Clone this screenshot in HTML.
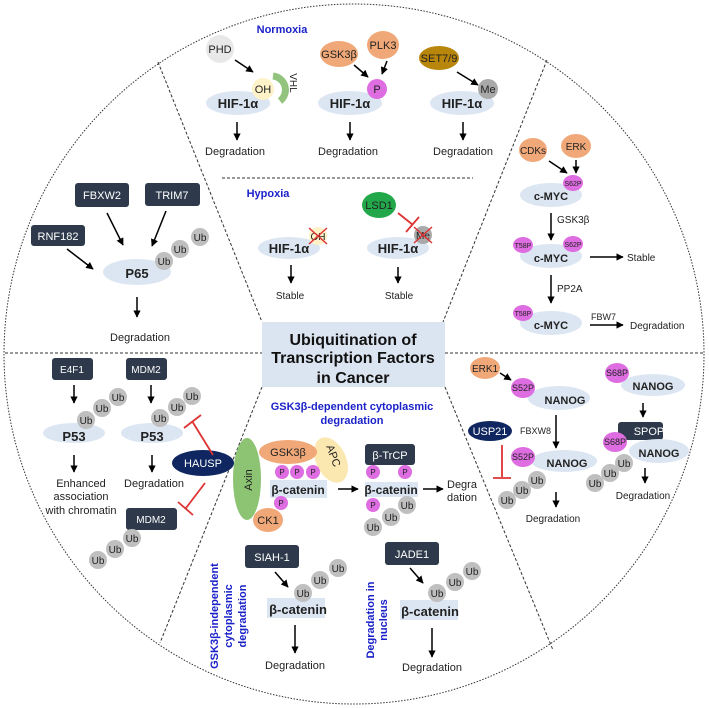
<!DOCTYPE html>
<html><head><meta charset="utf-8"><style>
html,body{margin:0;padding:0;background:#fff}
svg{display:block}
text{font-family:"Liberation Sans",Arial,sans-serif}
.b{font-weight:bold}
.w{fill:#fff}
.bl{fill:#1b22c8;font-weight:bold}
</style></head><body>
<svg width="709" height="708" viewBox="0 0 709 708" xmlns="http://www.w3.org/2000/svg">
<defs>
<marker id="a" viewBox="0 0 10 10" refX="9" refY="5" markerWidth="5" markerHeight="5" orient="auto"><path d="M0,0L10,5L0,10z" fill="#000"/></marker>
</defs>
<g fill="none" stroke="#333" stroke-width="1">
<circle cx="354" cy="354" r="350" stroke-dasharray="1.5,1.5"/>
<g stroke-dasharray="3,2">
<line x1="5" y1="353" x2="262" y2="353"/><line x1="445" y1="353" x2="704" y2="353"/>
<line x1="158" y1="62" x2="262" y2="322"/><line x1="547" y1="60" x2="443" y2="322"/>
<line x1="262" y1="387" x2="160" y2="643"/><line x1="445" y1="387" x2="553" y2="650"/>
<line x1="222" y1="178" x2="473" y2="178"/>
</g></g>
<!-- title -->
<rect x="262" y="322" width="183" height="65" fill="#dbe4f1"/>
<g class="b" font-size="16" text-anchor="middle" fill="#111">
<text x="353" y="345">Ubiquitination of</text><text x="353" y="363">Transcription Factors</text><text x="353" y="383">in Cancer</text></g>

<g font-size="11" fill="#222" text-anchor="middle">
<!-- Normoxia -->
<text x="282" y="33" class="bl" font-size="11">Normoxia</text>
<circle cx="220" cy="49" r="14" fill="#e8e8e8"/><text x="220" y="53">PHD</text>
<line x1="235" y1="60" x2="253" y2="72" stroke="#000" stroke-width="1.5" marker-end="url(#a)"/>
<ellipse cx="238" cy="103" rx="32" ry="12" fill="#dce6f2"/>
<path d="M273,76 A14,14 0 0 1 280,101" stroke="#93c47d" stroke-width="7" fill="none"/>
<text x="290" y="83" font-size="10" transform="rotate(90 290 83)">VHL</text>
<circle cx="263" cy="89" r="11" fill="#fdf2c8"/><text x="263" y="93">OH</text>
<text x="238" y="108" class="b" font-size="13">HIF-1α</text>
<line x1="237" y1="122" x2="237" y2="140" stroke="#000" stroke-width="1.5" marker-end="url(#a)"/>
<text x="235" y="155">Degradation</text>

<ellipse cx="339" cy="54" rx="19" ry="13" fill="#f0a878"/><text x="339" y="58">GSK3β</text>
<ellipse cx="383" cy="45" rx="16" ry="14" fill="#f0a878"/><text x="383" y="49">PLK3</text>
<line x1="354" y1="65" x2="368" y2="77" stroke="#000" stroke-width="1.5" marker-end="url(#a)"/>
<line x1="387" y1="61" x2="382" y2="74" stroke="#000" stroke-width="1.5" marker-end="url(#a)"/>
<ellipse cx="350" cy="103" rx="32" ry="12" fill="#dce6f2"/>
<circle cx="377" cy="89" r="10" fill="#dd6de0"/><text x="377" y="93">P</text>
<text x="350" y="108" class="b" font-size="13">HIF-1α</text>
<line x1="350" y1="122" x2="350" y2="140" stroke="#000" stroke-width="1.5" marker-end="url(#a)"/>
<text x="348" y="155">Degradation</text>

<ellipse cx="439" cy="58" rx="20" ry="12" fill="#b8860b"/><text x="439" y="62">SET7/9</text>
<line x1="457" y1="72" x2="478" y2="85" stroke="#000" stroke-width="1.5" marker-end="url(#a)"/>
<ellipse cx="462" cy="103" rx="32" ry="12" fill="#dce6f2"/>
<circle cx="488" cy="89" r="10" fill="#a9a9a9"/><text x="488" y="93">Me</text>
<text x="462" y="108" class="b" font-size="13">HIF-1α</text>
<line x1="463" y1="122" x2="463" y2="140" stroke="#000" stroke-width="1.5" marker-end="url(#a)"/>
<text x="463" y="155">Degradation</text>

<!-- Hypoxia -->
<text x="268" y="197" class="bl" font-size="11">Hypoxia</text>
<ellipse cx="289" cy="248" rx="31" ry="11" fill="#dce6f2"/>
<circle cx="318" cy="236" r="9" fill="#fdf2c8"/><text x="318" y="240" font-size="10">OH</text>
<path d="M309,228L327,244M327,228L309,244" stroke="#d33" stroke-width="1.5"/>
<text x="289" y="253" class="b" font-size="13">HIF-1α</text>
<line x1="291" y1="265" x2="291" y2="283" stroke="#000" stroke-width="1.5" marker-end="url(#a)"/>
<text x="290" y="299" font-size="10">Stable</text>

<ellipse cx="379" cy="205" rx="17" ry="13" fill="#22a84a"/><text x="379" y="209">LSD1</text>
<line x1="398" y1="213" x2="413" y2="225" stroke="#d33" stroke-width="1.8"/>
<line x1="406" y1="232" x2="419" y2="217" stroke="#d33" stroke-width="1.8"/>
<ellipse cx="398" cy="248" rx="31" ry="11" fill="#dce6f2"/>
<circle cx="423" cy="235" r="9" fill="#a9a9a9"/><text x="423" y="239" font-size="10">Me</text>
<path d="M414,227L432,243M432,227L414,243" stroke="#d33" stroke-width="1.5"/>
<text x="398" y="253" class="b" font-size="13">HIF-1α</text>
<line x1="398" y1="267" x2="398" y2="283" stroke="#000" stroke-width="1.5" marker-end="url(#a)"/>
<text x="399" y="299" font-size="10">Stable</text>

<!-- P65 -->
<rect x="75" y="183" width="54" height="24" rx="3" fill="#2e3a4b"/><text x="102" y="199" class="w">FBXW2</text>
<rect x="145" y="183" width="55" height="23" rx="3" fill="#2e3a4b"/><text x="172" y="199" class="w">TRIM7</text>
<rect x="31" y="225" width="54" height="21" rx="3" fill="#2e3a4b"/><text x="58" y="240" class="w">RNF182</text>
<line x1="107" y1="213" x2="123" y2="245" stroke="#000" stroke-width="1.5" marker-end="url(#a)"/>
<line x1="166" y1="211" x2="152" y2="246" stroke="#000" stroke-width="1.5" marker-end="url(#a)"/>
<line x1="67" y1="249" x2="93" y2="269" stroke="#000" stroke-width="1.5" marker-end="url(#a)"/>
<ellipse cx="137" cy="272" rx="34" ry="13" fill="#dce6f2"/>
<g font-size="10"><circle cx="200" cy="237" r="9" fill="#bfbfbf"/><text x="200" y="241">Ub</text>
<circle cx="180" cy="249" r="9" fill="#bfbfbf"/><text x="180" y="253">Ub</text>
<circle cx="164" cy="261" r="9" fill="#bfbfbf"/><text x="164" y="265">Ub</text></g>
<text x="137" y="278" class="b" font-size="13">P65</text>
<line x1="137" y1="297" x2="137" y2="317" stroke="#000" stroke-width="1.5" marker-end="url(#a)"/>
<text x="140" y="341">Degradation</text>

<!-- c-MYC -->
<ellipse cx="533" cy="150" rx="14" ry="12" fill="#f0a878"/><text x="533" y="154" font-size="10">CDKs</text>
<ellipse cx="576" cy="146" rx="15" ry="12" fill="#f0a878"/><text x="576" y="150" font-size="10">ERK</text>
<line x1="549" y1="161" x2="567" y2="173" stroke="#000" stroke-width="1.5" marker-end="url(#a)"/>
<line x1="576" y1="160" x2="576" y2="173" stroke="#000" stroke-width="1.5" marker-end="url(#a)"/>
<ellipse cx="551" cy="195" rx="31" ry="12" fill="#dce6f2"/>
<ellipse cx="573" cy="183" rx="10" ry="8" fill="#dd6de0"/><text x="573" y="186" font-size="7">S62P</text>
<text x="551" y="200" class="b" font-size="11">c-MYC</text>
<line x1="551" y1="213" x2="551" y2="240" stroke="#000" stroke-width="1.5" marker-end="url(#a)"/>
<text x="557" y="223" text-anchor="start" font-size="10">GSK3β</text>
<ellipse cx="551" cy="256" rx="31" ry="12" fill="#dce6f2"/>
<ellipse cx="523" cy="245" rx="10" ry="8" fill="#dd6de0"/><text x="523" y="248" font-size="7">T58P</text>
<ellipse cx="573" cy="244" rx="10" ry="8" fill="#dd6de0"/><text x="573" y="247" font-size="7">S62P</text>
<text x="551" y="262" class="b" font-size="11">c-MYC</text>
<line x1="590" y1="257" x2="623" y2="257" stroke="#000" stroke-width="1.5" marker-end="url(#a)"/>
<text x="627" y="261" text-anchor="start" font-size="10">Stable</text>
<line x1="551" y1="275" x2="551" y2="303" stroke="#000" stroke-width="1.5" marker-end="url(#a)"/>
<text x="557" y="292" text-anchor="start" font-size="10">PP2A</text>
<ellipse cx="551" cy="323" rx="31" ry="12" fill="#dce6f2"/>
<ellipse cx="523" cy="313" rx="10" ry="8" fill="#dd6de0"/><text x="523" y="316" font-size="7">T58P</text>
<text x="551" y="329" class="b" font-size="11">c-MYC</text>
<text x="591" y="320" text-anchor="start" font-size="9">FBW7</text>
<line x1="590" y1="325" x2="623" y2="325" stroke="#000" stroke-width="1.5" marker-end="url(#a)"/>
<text x="630" y="329" text-anchor="start" font-size="10">Degradation</text>

<!-- P53 -->
<rect x="52" y="358" width="41" height="22" rx="3" fill="#2e3a4b"/><text x="72" y="373" class="w" font-size="10">E4F1</text>
<rect x="126" y="358" width="41" height="22" rx="3" fill="#2e3a4b"/><text x="146" y="373" class="w" font-size="10">MDM2</text>
<line x1="74" y1="385" x2="74" y2="403" stroke="#000" stroke-width="1.5" marker-end="url(#a)"/>
<line x1="151" y1="385" x2="151" y2="403" stroke="#000" stroke-width="1.5" marker-end="url(#a)"/>
<ellipse cx="74" cy="433" rx="31" ry="10" fill="#dce6f2"/>
<ellipse cx="152" cy="433" rx="31" ry="10" fill="#dce6f2"/>
<g font-size="10">
<circle cx="118" cy="397" r="9" fill="#bfbfbf"/><text x="118" y="401">Ub</text>
<circle cx="102" cy="408" r="9" fill="#bfbfbf"/><text x="102" y="412">Ub</text>
<circle cx="86" cy="420" r="9" fill="#bfbfbf"/><text x="86" y="424">Ub</text>
<circle cx="192" cy="396" r="9" fill="#bfbfbf"/><text x="192" y="400">Ub</text>
<circle cx="177" cy="407" r="9" fill="#bfbfbf"/><text x="177" y="411">Ub</text>
<circle cx="160" cy="418" r="9" fill="#bfbfbf"/><text x="160" y="422">Ub</text></g>
<text x="74" y="441" class="b" font-size="13">P53</text>
<text x="152" y="441" class="b" font-size="13">P53</text>
<line x1="74" y1="455" x2="74" y2="472" stroke="#000" stroke-width="1.5" marker-end="url(#a)"/>
<line x1="152" y1="455" x2="152" y2="472" stroke="#000" stroke-width="1.5" marker-end="url(#a)"/>
<text x="81" y="487">Enhanced</text><text x="81" y="500">association</text><text x="81" y="514">with chromatin</text>
<text x="154" y="487">Degradation</text>
<ellipse cx="203" cy="463" rx="31" ry="13" fill="#0f2660"/><text x="203" y="467" class="w">HAUSP</text>
<g stroke="#d33" stroke-width="1.8"><line x1="213" y1="455" x2="192" y2="421"/><line x1="184" y1="428" x2="201" y2="415"/>
<line x1="205" y1="483" x2="186" y2="508"/><line x1="178" y1="502" x2="193" y2="515"/></g>
<rect x="126" y="508" width="51" height="22" rx="3" fill="#2e3a4b"/><text x="151" y="523" class="w" font-size="10">MDM2</text>
<g font-size="10"><circle cx="132" cy="538" r="9" fill="#bfbfbf"/><text x="132" y="542">Ub</text>
<circle cx="115" cy="549" r="9" fill="#bfbfbf"/><text x="115" y="553">Ub</text>
<circle cx="98" cy="560" r="9" fill="#bfbfbf"/><text x="98" y="564">Ub</text></g>

<!-- beta-catenin dependent -->
<text x="352" y="410" class="bl" font-size="11">GSK3β-dependent cytoplasmic</text>
<text x="352" y="424" class="bl" font-size="11">degradation</text>
<ellipse cx="247" cy="479" rx="14" ry="41" fill="#8cc474"/>
<text x="252" y="480" transform="rotate(-90 252 480)">Axin</text>
<ellipse cx="331" cy="460" rx="15" ry="24" fill="#fbe7b0" transform="rotate(-25 331 460)"/>
<ellipse cx="288" cy="452" rx="29" ry="12" fill="#f0a878"/><text x="288" y="456">GSK3β</text>
<text x="330" y="457" transform="rotate(70 330 457)">APC</text>
<rect x="270" y="480" width="57" height="18" fill="#dce6f2"/>
<g font-size="8"><circle cx="282" cy="472" r="7" fill="#dd6de0"/><text x="282" y="475">P</text>
<circle cx="297" cy="472" r="7" fill="#dd6de0"/><text x="297" y="475">P</text>
<circle cx="313" cy="472" r="7" fill="#dd6de0"/><text x="313" y="475">P</text></g>
<text x="298" y="494" class="b" font-size="12">β-catenin</text>
<ellipse cx="268" cy="520" rx="15" ry="12" fill="#f0a878"/><text x="268" y="524">CK1</text>
<circle cx="281" cy="503" r="7" fill="#dd6de0"/><text x="281" y="506" font-size="8">P</text>
<line x1="338" y1="489" x2="358" y2="489" stroke="#000" stroke-width="1.5" marker-end="url(#a)"/>
<rect x="365" y="444" width="50" height="21" rx="3" fill="#2e3a4b"/><text x="390" y="459" class="w">β-TrCP</text>
<rect x="365" y="482" width="53" height="15" fill="#dce6f2"/>
<g font-size="8"><circle cx="373" cy="472" r="7" fill="#dd6de0"/><text x="373" y="475">P</text>
<circle cx="405" cy="472" r="7" fill="#dd6de0"/><text x="405" y="475">P</text>
<circle cx="373" cy="505" r="7" fill="#dd6de0"/><text x="373" y="508">P</text></g>
<text x="391" y="494" class="b" font-size="12">β-catenin</text>
<g font-size="10"><circle cx="407" cy="505" r="9" fill="#bfbfbf"/><text x="407" y="509">Ub</text>
<circle cx="391" cy="517" r="9" fill="#bfbfbf"/><text x="391" y="521">Ub</text>
<circle cx="373" cy="527" r="9" fill="#bfbfbf"/><text x="373" y="531">Ub</text></g>
<line x1="423" y1="489" x2="443" y2="489" stroke="#000" stroke-width="1.5" marker-end="url(#a)"/>
<text x="447" y="488" text-anchor="start">Degra</text><text x="447" y="501" text-anchor="start">dation</text>

<!-- SIAH-1 -->
<text x="218" y="616" class="bl" font-size="11" transform="rotate(-90 218 616)">GSK3β-independent</text>
<text x="232" y="616" class="bl" font-size="11" transform="rotate(-90 232 616)">cytoplasmic</text>
<text x="246" y="616" class="bl" font-size="11" transform="rotate(-90 246 616)">degradation</text>
<rect x="245" y="545" width="54" height="23" rx="3" fill="#2e3a4b"/><text x="272" y="561" class="w">SIAH-1</text>
<line x1="275" y1="572" x2="288" y2="587" stroke="#000" stroke-width="1.5" marker-end="url(#a)"/>
<rect x="267" y="598" width="58" height="20" fill="#dce6f2"/>
<g font-size="10"><circle cx="338" cy="568" r="9" fill="#bfbfbf"/><text x="338" y="572">Ub</text>
<circle cx="320" cy="580" r="9" fill="#bfbfbf"/><text x="320" y="584">Ub</text>
<circle cx="303" cy="593" r="9" fill="#bfbfbf"/><text x="303" y="597">Ub</text></g>
<text x="298" y="614" class="b" font-size="13">β-catenin</text>
<line x1="295" y1="625" x2="295" y2="653" stroke="#000" stroke-width="1.5" marker-end="url(#a)"/>
<text x="295" y="669">Degradation</text>

<!-- JADE1 -->
<text x="374" y="620" class="bl" font-size="11" transform="rotate(-90 374 620)">Degradation in</text>
<text x="387" y="620" class="bl" font-size="11" transform="rotate(-90 387 620)">nucleus</text>
<rect x="385" y="542" width="54" height="23" rx="3" fill="#2e3a4b"/><text x="412" y="558" class="w">JADE1</text>
<line x1="410" y1="568" x2="423" y2="583" stroke="#000" stroke-width="1.5" marker-end="url(#a)"/>
<rect x="400" y="600" width="58" height="20" fill="#dce6f2"/>
<g font-size="10"><circle cx="472" cy="571" r="9" fill="#bfbfbf"/><text x="472" y="575">Ub</text>
<circle cx="455" cy="582" r="9" fill="#bfbfbf"/><text x="455" y="586">Ub</text>
<circle cx="437" cy="593" r="9" fill="#bfbfbf"/><text x="437" y="597">Ub</text></g>
<text x="430" y="616" class="b" font-size="13">β-catenin</text>
<line x1="432" y1="628" x2="432" y2="657" stroke="#000" stroke-width="1.5" marker-end="url(#a)"/>
<text x="432" y="671">Degradation</text>

<!-- NANOG -->
<ellipse cx="485" cy="368" rx="15" ry="11" fill="#f0a878"/><text x="485" y="372" font-size="10">ERK1</text>
<line x1="500" y1="373" x2="511" y2="380" stroke="#000" stroke-width="1.5" marker-end="url(#a)"/>
<ellipse cx="559" cy="398" rx="31" ry="12" fill="#dce6f2"/>
<ellipse cx="523" cy="388" rx="12" ry="10" fill="#dd6de0"/><text x="523" y="391" font-size="9">S52P</text>
<text x="565" y="404" class="b" font-size="11">NANOG</text>
<line x1="556" y1="415" x2="556" y2="448" stroke="#000" stroke-width="1.5" marker-end="url(#a)"/>
<text x="520" y="434" text-anchor="start" font-size="9">FBXW8</text>
<ellipse cx="490" cy="431" rx="22" ry="10" fill="#0f2660"/><text x="490" y="435" class="w">USP21</text>
<g stroke="#d33" stroke-width="1.8"><line x1="502" y1="445" x2="502" y2="477"/><line x1="493" y1="478" x2="511" y2="478"/></g>
<ellipse cx="564" cy="461" rx="33" ry="11" fill="#dce6f2"/>
<ellipse cx="523" cy="457" rx="12" ry="10" fill="#dd6de0"/><text x="523" y="460" font-size="9">S52P</text>
<text x="567" y="467" class="b" font-size="11">NANOG</text>
<g font-size="10"><circle cx="537" cy="480" r="9" fill="#bfbfbf"/><text x="537" y="484">Ub</text>
<circle cx="522" cy="490" r="9" fill="#bfbfbf"/><text x="522" y="494">Ub</text>
<circle cx="507" cy="500" r="9" fill="#bfbfbf"/><text x="507" y="504">Ub</text></g>
<line x1="556" y1="492" x2="556" y2="507" stroke="#000" stroke-width="1.5" marker-end="url(#a)"/>
<text x="553" y="522" font-size="10">Degradation</text>

<ellipse cx="653" cy="385" rx="32" ry="11" fill="#dce6f2"/>
<ellipse cx="617" cy="373" rx="12" ry="10" fill="#dd6de0"/><text x="617" y="376" font-size="9">S68P</text>
<text x="653" y="390" class="b" font-size="11">NANOG</text>
<line x1="643" y1="403" x2="643" y2="417" stroke="#000" stroke-width="1.5" marker-end="url(#a)"/>
<rect x="618" y="422" width="45" height="18" rx="3" fill="#2e3a4b"/><text x="649" y="435" class="w">SPOP</text>
<ellipse cx="659" cy="451" rx="30" ry="12" fill="#dce6f2"/>
<ellipse cx="615" cy="442" rx="12" ry="10" fill="#dd6de0"/><text x="615" y="445" font-size="9">S68P</text>
<text x="659" y="457" class="b" font-size="11">NANOG</text>
<g font-size="10"><circle cx="624" cy="463" r="9" fill="#bfbfbf"/><text x="624" y="467">Ub</text>
<circle cx="610" cy="473" r="9" fill="#bfbfbf"/><text x="610" y="477">Ub</text>
<circle cx="595" cy="483" r="9" fill="#bfbfbf"/><text x="595" y="487">Ub</text></g>
<line x1="645" y1="468" x2="645" y2="483" stroke="#000" stroke-width="1.5" marker-end="url(#a)"/>
<text x="643" y="499" font-size="10">Degradation</text>
</g>
</svg>
</body></html>
